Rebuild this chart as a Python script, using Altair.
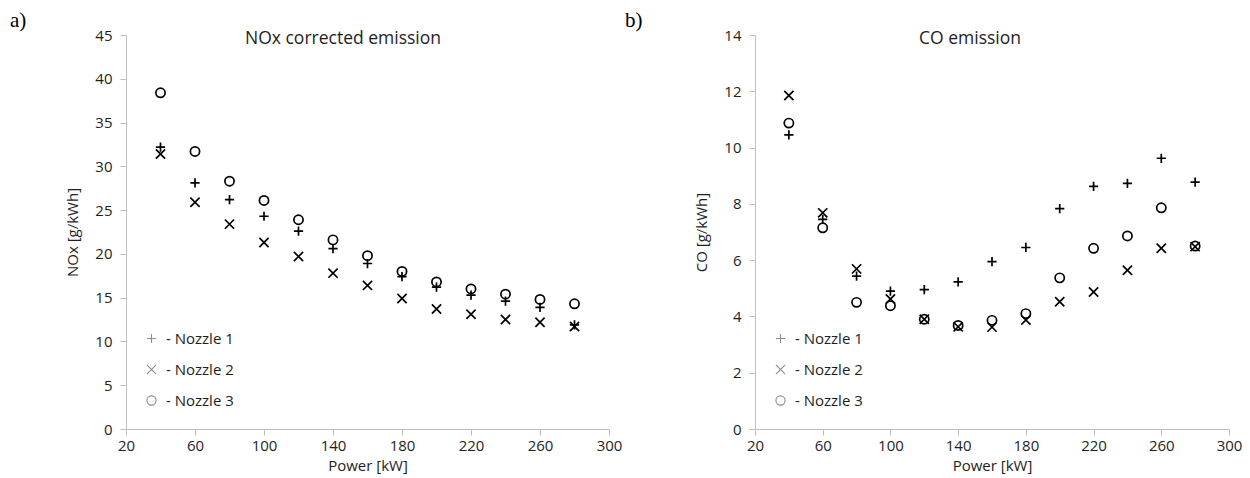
import altair as alt
import pandas as pd

# ---------------- data ----------------
power = [40, 60, 80, 100, 120, 140, 160, 180, 200, 220, 240, 260, 280]
nozzles = ["Nozzle 1", "Nozzle 2", "Nozzle 3"]

nox_n1 = [32.2, 28.1, 26.2, 24.3, 22.6, 20.6, 18.9, 17.4, 16.2, 15.3, 14.6, 13.9, 11.9]
nox_n2 = [31.4, 25.9, 23.4, 21.3, 19.7, 17.8, 16.4, 14.9, 13.7, 13.1, 12.5, 12.2, 11.7]
nox_n3 = [38.4, 31.7, 28.3, 26.1, 23.9, 21.6, 19.8, 18.0, 16.8, 16.0, 15.4, 14.8, 14.3]

co_n1 = [10.45, 7.45, 5.43, 4.90, 4.95, 5.23, 5.95, 6.45, 7.83, 8.62, 8.73, 9.62, 8.77]
co_n2 = [11.85, 7.68, 5.69, 4.62, 3.90, 3.63, 3.62, 3.87, 4.52, 4.87, 5.64, 6.42, 6.48]
co_n3 = [10.87, 7.15, 4.50, 4.38, 3.90, 3.68, 3.86, 4.10, 5.37, 6.42, 6.86, 7.86, 6.50]

power_ticks = [20, 60, 100, 140, 180, 220, 260, 300]
nox_ticks = [0, 5, 10, 15, 20, 25, 30, 35, 40, 45]
co_ticks = [0, 2, 4, 6, 8, 10, 12, 14]


def to_long(series):
    rows = []
    for name, vals in zip(nozzles, series):
        for p, v in zip(power, vals):
            rows.append({"power": p, "value": v, "nozzle": name})
    return pd.DataFrame(rows)


nox_df = to_long([nox_n1, nox_n2, nox_n3])
co_df = to_long([co_n1, co_n2, co_n3])

PLUS = "M-1,0L1,0M0,-1L0,1"
CROSS = "M-1,-1L1,1M-1,1L1,-1"
TEXT = "#1e1e1e"
FONT = "Open Sans"


def panel(df, ytitle, ytick_vals, title, title_x, letter, letter_x, width, height):
    legend = alt.Legend(
        title=None, orient="none", legendX=18, legendY=296,
        symbolStrokeColor="#8c8c8c", symbolFillColor="transparent",
        symbolStrokeWidth=1.1, symbolSize=85,
        labelFontSize=15, labelFont=FONT, labelColor=TEXT,
        rowPadding=15, labelOffset=7, padding=0,
        labelExpr="'- ' + datum.label",
    )
    pts = alt.Chart(df).mark_point(
        filled=False, color="black", strokeWidth=1.7, size=85, opacity=1
    ).encode(
        x=alt.X("power:Q", scale=alt.Scale(domain=[20, 300], nice=False),
                axis=alt.Axis(values=power_ticks, title="Power [kW]")),
        y=alt.Y("value:Q", scale=alt.Scale(domain=[0, ytick_vals[-1]], nice=False),
                axis=alt.Axis(values=ytick_vals, title=ytitle)),
        shape=alt.Shape("nozzle:N",
                        scale=alt.Scale(domain=nozzles, range=[PLUS, CROSS, "circle"]),
                        legend=legend),
    )
    ttl = alt.Chart(pd.DataFrame({"t": [title]})).mark_text(
        font=FONT, fontSize=17.5, color=TEXT, align="center", baseline="middle"
    ).encode(text="t:N", x=alt.value(title_x), y=alt.value(4))
    let = alt.Chart(pd.DataFrame({"t": [letter]})).mark_text(
        font="Liberation Serif", fontSize=21, color="black", align="left", baseline="middle"
    ).encode(text="t:N", x=alt.value(letter_x), y=alt.value(-14))
    return alt.layer(pts, ttl, let).properties(width=width, height=height)


left = panel(nox_df, "NOx [g/kWh]", nox_ticks, "NOx corrected emission", 217, "a)", -116, 483, 394)
right = panel(co_df, "CO [g/kWh]", co_ticks, "CO emission", 215, "b)", -130, 474, 394)

chart = alt.hconcat(left, right, spacing=146, bounds="flush").resolve_scale(
    shape="independent"
).resolve_legend(shape="independent").properties(
    padding={"left": 2, "top": 2, "right": 0, "bottom": 3}, background="white"
).configure_view(stroke=None).configure_axis(
    grid=False, domainColor="#BFBFBF", tickColor="#BFBFBF", tickSize=6,
    labelFont=FONT, labelFontSize=15, labelColor=TEXT, labelFlush=False,
    titleFont=FONT, titleFontSize=15, titleFontWeight="normal", titleColor=TEXT,
).configure_axisY(labelPadding=8, titlePadding=14).configure_axisX(
    labelPadding=3, titlePadding=5
)

chart.save("out.html", embed_options={"renderer": "svg", "actions": False})
